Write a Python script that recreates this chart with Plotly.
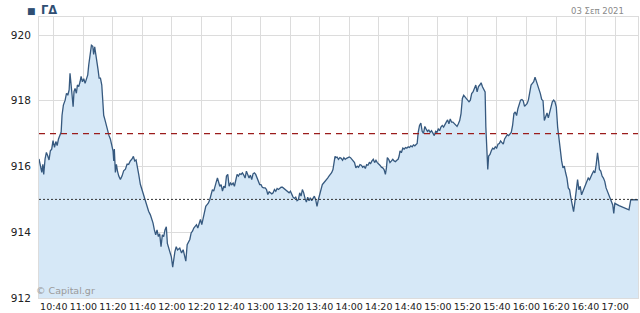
import pandas as pd
import plotly.graph_objects as go

# minutes after 10:30 on 03 Sep 2021
minutes = [
    0.0, 1.0, 1.9, 2.6, 3.2, 4.1, 5.0, 5.9, 6.8, 7.7, 8.6, 9.5, 10.5, 11.4, 12.3, 13.2, 14.1, 15.0, 15.6, 16.5,
    17.7, 18.6, 19.5, 20.4, 21.0, 21.7, 22.4, 23.1, 23.7, 24.4, 25.3, 26.0, 26.9, 27.8, 28.5, 29.4, 30.3, 31.2, 32.1, 33.0,
    33.7, 34.6, 35.5, 36.4, 37.0, 37.7, 38.4, 39.1, 40.0, 40.7, 41.6, 42.5, 43.1, 43.8, 44.7, 45.6, 46.5, 47.4, 48.3, 49.2,
    50.1, 50.6, 51.0, 51.7, 52.4, 53.1, 54.0, 55.1, 56.2, 57.3, 58.5, 59.6, 60.7, 61.8, 63.0, 63.9, 64.8, 65.7, 66.6, 67.5,
    68.6, 69.7, 70.9, 72.0, 73.1, 74.2, 75.4, 76.3, 77.2, 78.1, 79.0, 79.9, 80.8, 81.7, 82.6, 83.5, 84.4, 85.3, 86.2, 86.9,
    87.8, 88.7, 89.6, 90.5, 91.1, 92.0, 92.9, 93.8,
    95.3, 96.5, 97.6, 98.5, 99.4, 100.3, 101.2, 102.1, 103.0, 103.9, 104.8, 105.7, 106.6, 107.5, 108.4, 109.3, 110.2, 111.1,
    112.0, 112.9, 113.8, 114.7, 115.6, 116.5, 117.4, 118.3, 119.2, 120.1, 120.8, 121.5, 122.4, 123.3, 124.2, 125.1, 126.0,
    126.9, 127.8, 128.7, 129.6, 130.5, 131.4, 132.3, 133.2, 134.1, 135.0, 135.9, 136.8, 137.7, 138.6, 139.5, 140.4, 141.3,
    142.2, 143.1, 144.0, 144.9, 145.8, 146.7, 147.6, 148.5, 149.4, 150.3, 151.2, 152.1, 153.1, 154.0, 154.9, 155.8, 156.7,
    157.6, 158.5, 159.4, 160.3, 161.2, 162.1, 163.0, 163.9, 164.8, 165.7, 166.6, 167.5, 168.4, 169.3, 170.2, 171.1, 172.0,
    172.9, 173.8, 174.7, 175.6, 176.5, 177.4, 178.3, 179.2, 180.1, 181.0, 181.9, 182.8, 183.7, 184.6, 185.5, 186.4, 187.3,
    188.2, 189.1, 190.0, 190.9, 191.8, 192.7, 193.6, 194.5, 195.4, 196.3, 197.2, 198.1, 199.0, 199.7, 200.4,
    200.9, 201.8, 202.7, 203.7, 204.6, 205.5, 206.4, 207.3, 208.2, 209.1, 210.0, 210.9, 211.8, 212.7, 213.6, 214.5, 215.4,
    216.3, 217.3, 218.2, 219.1, 220.0, 220.9, 221.8, 222.7, 223.6, 224.5, 225.4, 226.3, 227.2, 228.1, 229.0, 229.9, 230.8,
    231.8, 232.7, 233.6, 234.5, 235.2, 235.8, 236.7, 237.6, 238.6, 239.5, 240.4, 241.3, 242.2, 243.1, 243.8, 244.4, 245.3,
    246.3, 247.2, 248.1, 249.0, 249.9, 250.8, 251.7, 252.6, 253.5, 254.4, 255.3, 256.0, 256.7, 257.6, 258.5, 259.4, 260.3,
    261.2, 262.1, 263.0, 263.9, 264.8, 265.7, 266.7, 267.6, 268.5, 269.4, 270.3, 271.2, 272.1, 273.0, 273.9, 274.8, 275.7,
    276.6, 277.5, 278.4, 279.3, 280.2, 281.2, 282.1, 283.0, 283.9, 284.8, 285.7, 286.6, 287.5, 288.4, 289.3, 290.2, 291.1,
    292.0, 292.9, 293.8, 294.7, 295.7, 296.6, 297.5, 298.4, 299.3, 300.2, 301.1, 302.0, 302.5, 303.1, 303.8,
    304.4, 305.3, 306.2, 307.1, 308.0, 308.9, 309.8, 310.7, 311.6, 312.5, 313.4, 314.3, 315.2, 316.1, 317.0, 317.9, 318.8,
    319.7, 320.6, 321.5, 322.4, 323.3, 324.2, 325.1, 326.0, 326.9, 327.8, 328.7, 329.5, 330.4, 331.3, 332.2, 333.1, 334.0,
    334.9, 335.8, 336.7, 337.6, 338.5, 339.4, 340.3, 341.2, 342.1, 343.0, 343.9, 344.8, 345.7, 346.6, 347.5, 348.4, 349.3,
    350.2, 351.1, 352.0, 352.9, 353.8, 354.7, 355.6, 356.5, 357.4, 358.3, 359.2, 360.1, 361.0, 361.9, 362.8, 363.7, 364.6,
    365.5, 366.4, 367.3, 368.2, 369.1, 370.0, 370.9, 371.8, 372.7, 373.6, 374.5, 375.4, 376.3, 377.2, 378.1, 378.8, 379.4,
    380.3, 381.2, 382.1, 383.0, 383.9, 384.8, 385.7, 386.6, 387.5, 388.4, 389.1, 389.8, 392.7, 396.1, 399.4, 400.6, 402.8,
    405.5,
]

values = [
    916.23, 915.97, 915.82, 916.07, 915.76, 916.23, 916.43, 916.33, 916.20, 916.48, 916.53, 916.79, 916.58, 916.76, 916.64, 916.84, 916.94, 917.05, 917.56, 917.87,
    918.02, 918.23, 918.17, 918.33, 918.84, 918.58, 918.17, 917.82, 918.28, 918.38, 918.23, 918.48, 918.43, 918.58, 918.74, 918.58, 918.67, 918.53, 918.64, 918.79,
    919.10, 919.41, 919.69, 919.66, 919.41, 919.64, 919.46, 919.20, 918.94, 918.69, 918.69, 918.48, 917.97, 917.56, 917.41, 917.25, 917.05, 916.94, 916.84, 916.69,
    916.48, 916.17, 916.53, 915.82, 916.07, 915.87, 915.71, 915.61, 915.71, 915.87, 915.92, 916.07, 916.07, 916.17, 916.23, 916.31, 916.17, 916.20, 915.92, 915.76,
    915.46, 915.30, 915.10, 914.94, 914.79, 914.64, 914.53, 914.43, 914.28, 914.07, 913.92, 914.07, 913.87, 913.95, 913.56, 913.92, 913.87, 914.07, 914.17, 913.66,
    913.51, 913.35, 913.25, 912.94, 913.20, 913.41, 913.56, 913.46,
    913.52, 913.37, 913.47, 913.32, 913.12, 913.62, 913.73, 913.78, 913.98, 914.03, 914.13, 914.18, 914.23, 914.13, 914.28, 914.39, 914.23, 914.39,
    914.59, 914.79, 914.84, 914.89, 914.99, 915.20, 915.30, 915.25, 915.45, 915.55, 915.65, 915.50, 915.40, 915.45, 915.25, 915.40, 915.35,
    915.71, 915.76, 915.40, 915.50, 915.45, 915.50, 915.40, 915.60, 915.76, 915.71, 915.78, 915.76, 915.81, 915.74, 915.65, 915.86, 915.76,
    915.65, 915.74, 915.60, 915.78, 915.81, 915.76, 915.65, 915.55, 915.45, 915.45, 915.37, 915.35, 915.35, 915.30, 915.15, 915.23, 915.20,
    915.17, 915.20, 915.30, 915.25, 915.33, 915.30, 915.35, 915.37, 915.37, 915.33, 915.30, 915.25, 915.23, 915.20, 915.25, 915.15, 915.07,
    915.03, 915.07, 914.96, 914.99, 915.20, 915.10, 915.30, 915.20, 915.03, 914.92, 915.07, 914.96, 915.05, 914.96, 915.03, 915.10, 914.99,
    914.79, 914.99, 915.15, 915.35, 915.45, 915.50, 915.55, 915.57, 915.65, 915.71, 915.76, 915.81, 915.91, 916.11, 916.31,
    916.27, 916.29, 916.22, 916.27, 916.25, 916.19, 916.27, 916.22, 916.25, 916.27, 916.29, 916.27, 916.22, 916.17, 916.12, 915.96, 916.01,
    915.98, 916.06, 916.04, 915.98, 916.01, 915.94, 916.06, 916.04, 916.12, 916.09, 916.17, 916.22, 916.12, 916.19, 916.12, 916.06, 916.04,
    915.98, 915.96, 915.91, 915.76, 915.96, 916.27, 916.22, 916.12, 916.17, 916.22, 916.17, 916.15, 916.19, 916.22, 916.32, 916.48, 916.42,
    916.56, 916.53, 916.58, 916.56, 916.60, 916.58, 916.63, 916.60, 916.66, 916.63, 916.68, 916.70, 917.04, 917.25, 917.32, 917.07, 917.01,
    917.22, 917.14, 917.07, 917.11, 917.04, 917.09, 917.01, 916.94, 917.07, 917.04, 917.14, 917.09, 917.20, 917.25, 917.20, 917.30, 917.35,
    917.42, 917.30, 917.45, 917.35, 917.35, 917.30, 917.25, 917.22, 917.30, 917.40, 917.61, 918.07, 918.17, 918.12, 918.10, 918.04, 917.97,
    918.02, 918.22, 918.27, 918.38, 918.48, 918.27, 918.43, 918.48, 918.55, 918.43, 918.33, 918.27, 917.20, 916.27, 915.91,
    916.32, 916.37, 916.48, 916.56, 916.53, 916.60, 916.56, 916.68, 916.70, 916.78, 916.73, 916.68, 916.84, 916.89, 916.97, 916.94, 917.01,
    917.04, 917.25, 917.61, 917.66, 917.55, 917.76, 917.91, 918.02, 918.04, 918.00, 917.83, 917.86, 917.91, 918.02, 918.33, 918.48, 918.53,
    918.58, 918.72, 918.61, 918.45, 918.33, 918.22, 918.04, 918.00, 917.40, 917.55, 917.63, 917.48, 917.61, 917.81, 917.97, 918.02, 917.97,
    917.81, 917.20, 916.78, 916.37, 916.17, 915.96, 916.01, 915.81, 915.65, 915.35, 915.29, 915.04, 914.83, 914.63, 914.93, 915.35, 915.60,
    915.29, 915.40, 915.14, 915.24, 915.35, 915.40, 915.55, 915.65, 915.60, 915.71, 915.78, 915.86, 915.81, 916.06, 916.42, 916.17, 915.91,
    915.86, 915.71, 915.65, 915.55, 915.35, 915.24, 915.19, 915.04, 914.93, 914.83, 914.57, 914.88, 914.81, 914.75, 914.68, 914.99, 914.99,
    914.99,
]

assert len(minutes) == len(values), (len(minutes), len(values))

start = pd.Timestamp("2021-09-03 10:30")
times = [start + pd.Timedelta(minutes=m) for m in minutes]

x_ticks = ["10:40", "11:00", "11:20", "11:40", "12:00", "12:20", "12:40", "13:00", "13:20", "13:40", "14:00",
           "14:20", "14:40", "15:00", "15:20", "15:40", "16:00", "16:20", "16:40", "17:00"]
tick_vals = [pd.Timestamp("2021-09-03 " + t) for t in x_ticks]
y_ticks = [912, 914, 916, 918, 920]

prev_close = 915.0
ref_level = 917.0

line_color = "#36597f"
grid = "#dcdcdc"

fig = go.Figure()
fig.add_trace(go.Scatter(
    x=times, y=values, mode="lines",
    line=dict(color=line_color, width=1.3),
    fill="tozeroy", fillcolor="#d6e8f7",
    hoverinfo="skip", showlegend=False,
))

x0 = start
x1 = start + pd.Timedelta(minutes=405.5)

fig.add_shape(type="line", xref="x", yref="y", x0=x0, x1=x1, y0=ref_level, y1=ref_level,
              line=dict(color="#9b1c1c", width=1.2, dash="6px,5px"))
fig.add_shape(type="line", xref="x", yref="y", x0=x0, x1=x1, y0=prev_close, y1=prev_close,
              line=dict(color="#333333", width=1, dash="2px,2px"))

fig.update_layout(
    width=640, height=313,
    margin=dict(l=39, r=2, t=17, b=15),
    paper_bgcolor="white", plot_bgcolor="white",
    font=dict(family="DejaVu Sans", color="#222222"),
    xaxis=dict(
        range=[x0, x1], tickvals=tick_vals, ticktext=x_ticks,
        showgrid=True, gridcolor=grid, gridwidth=1,
        showline=True, linecolor=grid, mirror=True,
        tickfont=dict(size=9.5, color="#222222"), ticks="", zeroline=False,
    ),
    yaxis=dict(
        range=[912, 920.55], tickvals=y_ticks,
        showgrid=True, gridcolor=grid, gridwidth=1,
        showline=True, linecolor=grid, mirror=True,
        tickfont=dict(size=10.5, color="#222222"), ticks="outside", ticklen=5, tickcolor="white",
        zeroline=False,
    ),
    annotations=[
        dict(text="<b>■</b>", xref="paper", yref="paper", x=-0.023, y=1.0, xanchor="left", yanchor="bottom",
             yshift=-1, showarrow=False, font=dict(size=9, color="#2f4e73")),
        dict(text="<b>ΓΔ</b>", xref="paper", yref="paper", x=0.0, y=1.0, xanchor="left", yanchor="bottom",
             yshift=-2, showarrow=False, font=dict(size=11.5, color="#2f4e73")),
        dict(text="03 Σεπ 2021", xref="paper", yref="paper", x=0.98, y=1.0, xanchor="right", yanchor="bottom",
             yshift=-1, showarrow=False, font=dict(size=8.5, color="#8a8a8a")),
        dict(text="© Capital.gr", xref="paper", yref="paper", x=-0.008, y=0.0, xanchor="left", yanchor="bottom",
             yshift=0, showarrow=False, font=dict(size=9.5, color="#9a9a9a")),
    ],
)

fig.write_html("out.html")
